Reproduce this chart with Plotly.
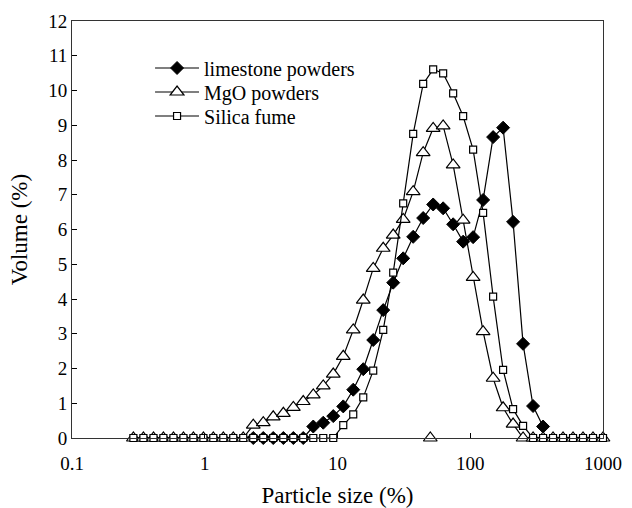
import plotly.graph_objects as go

sizes = [0.290, 0.345, 0.411, 0.488, 0.581, 0.691, 0.821, 0.977, 1.16, 1.38,
         1.64, 1.95, 2.32, 2.76, 3.28, 3.91, 4.65, 5.52, 6.57, 7.81,
         9.29, 11.05, 13.14, 15.63, 18.58, 22.10, 26.28, 31.25, 37.16, 44.19,
         52.56, 62.5, 74.33, 88.39, 105.1, 125.0, 148.7, 176.8, 210.2, 250.0,
         297.3, 353.6, 420.4, 500.0, 594.6, 707.1, 840.9, 1000.0]

limestone_x = sizes[12:42]
limestone_y = [0, 0, 0, 0, 0, 0, 0.33, 0.44, 0.63, 0.91,
               1.39, 1.98, 2.82, 3.68, 4.47, 5.17, 5.79, 6.33, 6.72, 6.61,
               6.15, 5.65, 5.78, 6.85, 8.66, 8.93, 6.22, 2.71, 0.92, 0.33]

mgo_x = sizes
mgo_y = [0, 0, 0, 0, 0, 0, 0, 0, 0, 0,
         0, 0, 0.37, 0.44, 0.61, 0.71, 0.88, 1.05, 1.24, 1.50,
         1.84, 2.35, 3.11, 3.97, 4.88, 5.46, 5.84, 6.29, 7.09, 8.21,
         8.91, 8.98, 7.86, 6.27, 4.62, 3.06, 1.72, 0.87, 0.40, 0,
         0, 0, 0, 0, 0, 0, 0, 0]
mgo_stray_x = [50.0]
mgo_stray_y = [0]

silica_x = sizes
silica_y = [0, 0, 0, 0, 0, 0, 0, 0, 0, 0,
            0, 0, 0, 0, 0, 0, 0, 0, 0, 0,
            0, 0.37, 0.68, 1.17, 1.94, 3.11, 4.76, 6.75, 8.75, 10.19,
            10.61, 10.49, 9.92, 9.26, 8.30, 6.48, 4.07, 1.96, 0.83, 0.35,
            0, 0, 0, 0, 0, 0, 0, 0]

x_tickvals = [0.1, 1, 10, 100, 1000]
x_ticktext = ["0.1", "1", "10", "100", "1000"]
y_tickvals = list(range(0, 13))

FONT = "Liberation Serif, Times New Roman, serif"
LINE = dict(color="black", width=1.2)

fig = go.Figure()
fig.add_trace(go.Scatter(
    x=limestone_x, y=limestone_y, mode="lines+markers", name="limestone powders",
    line=LINE, cliponaxis=False, legend="legend",
    marker=dict(symbol="diamond", size=10, color="black", line=dict(color="black", width=1))))
fig.add_trace(go.Scatter(
    x=mgo_x, y=mgo_y, mode="lines+markers", name="MgO powders",
    line=LINE, cliponaxis=False, legend="legend2",
    marker=dict(symbol="triangle-up", size=12, color="white", line=dict(color="black", width=1.2))))
fig.add_trace(go.Scatter(
    x=mgo_stray_x, y=mgo_stray_y, mode="markers", showlegend=False, cliponaxis=False,
    marker=dict(symbol="triangle-up", size=12, color="white", line=dict(color="black", width=1.2))))
fig.add_trace(go.Scatter(
    x=silica_x, y=silica_y, mode="lines+markers", name="Silica fume",
    line=LINE, cliponaxis=False, legend="legend3",
    marker=dict(symbol="square", size=7, color="white", line=dict(color="black", width=1.2))))

leg_common = dict(x=0.147, xanchor="left", yanchor="middle", bgcolor="rgba(0,0,0,0)",
                  font=dict(family=FONT, size=20, color="black"), itemwidth=44,
                  borderwidth=0)

fig.update_layout(
    width=632, height=508,
    margin=dict(l=72, r=29, t=21, b=70, autoexpand=False),
    paper_bgcolor="white", plot_bgcolor="white",
    font=dict(family=FONT, size=19, color="black"),
    showlegend=True,
    legend=dict(y=0.8873, **leg_common),
    legend2=dict(y=0.8297, **leg_common),
    legend3=dict(y=0.7722, **leg_common),
    xaxis=dict(type="log", range=[-1, 3], tickvals=x_tickvals, ticktext=x_ticktext,
               ticks="inside", ticklen=5, tickcolor="black", showgrid=False, zeroline=False,
               showline=True, linecolor="#333", linewidth=1, mirror=True, automargin=False,
               tickfont=dict(family=FONT, size=19), ticklabelstandoff=8,
               title=dict(text="Particle size (%)", font=dict(family=FONT, size=23), standoff=16)),
    yaxis=dict(range=[0, 12], tickvals=y_tickvals, automargin=False,
               ticks="inside", ticklen=5, tickcolor="black", showgrid=False, zeroline=False,
               showline=True, linecolor="#333", linewidth=1, mirror=True,
               tickfont=dict(family=FONT, size=19),
               title=dict(text="Volume (%)", font=dict(family=FONT, size=23), standoff=14)),
)

fig.write_html("out.html", config={"displayModeBar": False},
               post_script="document.body.style.margin='0';")
